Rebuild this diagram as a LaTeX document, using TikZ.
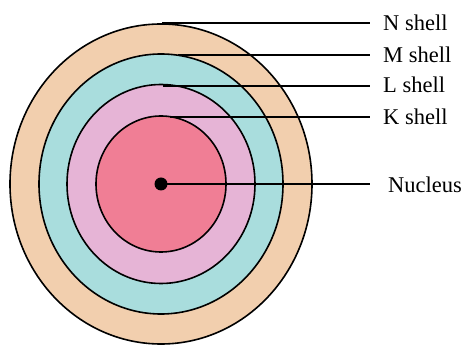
\documentclass[tikz,border=0pt]{standalone}
\usepackage{fontspec}
\setmainfont{Liberation Serif}
\definecolor{peach}{HTML}{F2CFAE}
\definecolor{aqua}{HTML}{A9DDDD}
\definecolor{lilac}{HTML}{E6B4D6}
\definecolor{rose}{HTML}{F07E95}
\begin{document}
\begin{tikzpicture}[x=1pt,y=1pt,
  shellring/.style={draw=black,line width=1.6pt},
  leader/.style={draw=black,line width=1.4pt},
  lbl/.style={anchor=base west,inner sep=0pt,font=\fontsize{22.5}{26}\selectfont}]
\useasboundingbox (0,0) rectangle (461,345);
\coordinate (c) at (161,161);
\fill[white] (0,0) rectangle (461,345);
\draw[shellring,fill=peach] (c) ellipse [x radius=151,y radius=160];
\draw[shellring,fill=aqua] (c) ellipse [x radius=122,y radius=130];
\draw[shellring,fill=lilac] (c) ellipse [x radius=94,y radius=99.5];
\draw[shellring,fill=rose] (c) ellipse [x radius=65,y radius=68];
\node[circle,fill=black,inner sep=0pt,minimum size=13pt] (nuc) at (c) {};
\coordinate (nS) at (162,322);
\coordinate (mS) at (178,290);
\coordinate (lS) at (163,259);
\coordinate (kS) at (170,228);
\coordinate (nE) at (370,322);
\coordinate (mE) at (370,290);
\coordinate (lE) at (370,259);
\coordinate (kE) at (370,228);
\coordinate (cE) at (370,161);
\draw[leader] (nS) -- (nE);
\draw[leader] (mS) -- (mE);
\draw[leader] (lS) -- (lE);
\draw[leader] (kS) -- (kE);
\draw[leader] (nuc.center) -- (cE);
\node[lbl] (tN) at (383,314) {N shell};
\node[lbl] (tM) at (383,282) {M shell};
\node[lbl] (tL) at (383,252) {L shell};
\node[lbl] (tK) at (383,220) {K shell};
\node[lbl] (tC) at (388,152) {Nucleus};
\end{tikzpicture}
\end{document}
